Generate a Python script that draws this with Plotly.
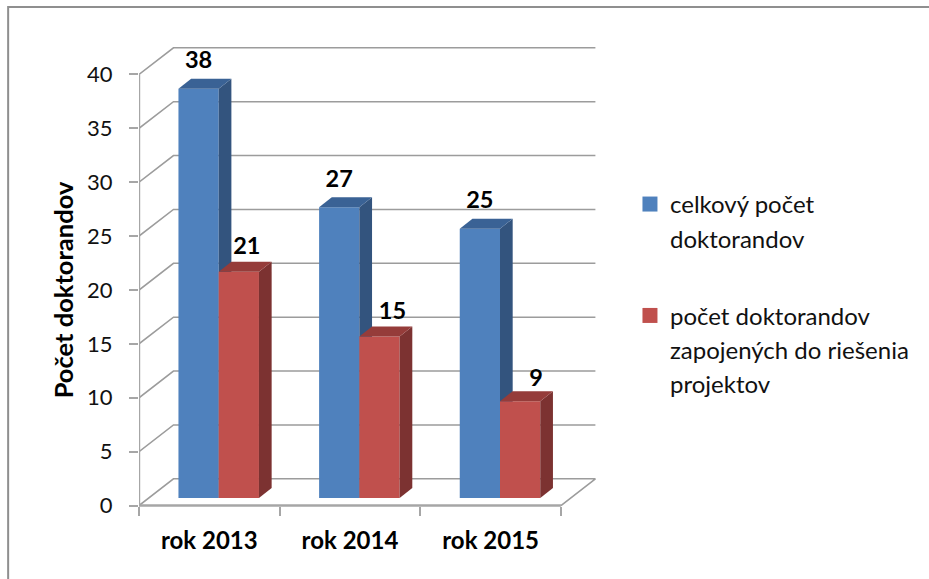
import plotly.graph_objects as go

categories = ["rok 2013", "rok 2014", "rok 2015"]
total = [38, 27, 25]
involved = [21, 15, 9]
y_ticks = [0, 5, 10, 15, 20, 25, 30, 35, 40]
name_total = ["celkový počet", "doktorandov"]
name_involved = ["počet doktorandov", "zapojených do riešenia", "projektov"]
y_title = "Počet doktorandov"

# pixel layout: plot area PT..PB is centred on the 0-40 span, so the axis title centres on it
W, H = 929, 579
PX0, PX1 = 138.5, 600.0
ZERO_PY, FORTY_PY = 505.7, 74.5
PT, PB = 40.0, 2 * (ZERO_PY + FORTY_PY) / 2 - 40.0
CAT_PX = 140.8
VAL_PX = (ZERO_PY - FORTY_PY) / y_ticks[-1]
X_RANGE = [0, (PX1 - PX0) / CAT_PX]
Y_RANGE = [-(PB - ZERO_PY) / VAL_PX, (ZERO_PY - PT) / VAL_PX]

# pseudo-3D geometry, in axis units
WALL_DX, WALL_DY = 34.5 / CAT_PX, 26.7 / VAL_PX
BAR_DX, BAR_DY = 12.7 / CAT_PX, 10.0 / VAL_PX
BAR_BASE = 7.4 / VAL_PX
BAR_W = 40.3 / CAT_PX
BAR_START = 0.2805
LABEL_UP = 26.5 / VAL_PX
label_lift_total = [0, 0, 0]
label_lift_involved = [-3 / VAL_PX, -3 / VAL_PX, -5 / VAL_PX]
label_shift_total = [0, 0, 0]
label_shift_involved = [8 / CAT_PX, 13 / CAT_PX, 16 / CAT_PX]

GRID = "#9c9c9c"
AXIS = "#a6a6a6"
BLUE, BLUE_SIDE, BLUE_TOP = "#4f81bd", "#33547e", "#3a6295"
RED, RED_SIDE, RED_TOP = "#c0504d", "#7c3231", "#953c3a"
FONT = "Lato"
INK = "#111111"

fig = go.Figure()

# back wall and floor
n = len(categories)
for v in y_ticks[1:]:
    fig.add_trace(go.Scatter(
        x=[0, WALL_DX, n + WALL_DX], y=[v, v + WALL_DY, v + WALL_DY],
        mode="lines", line=dict(color=GRID, width=1.6), showlegend=False,
        hoverinfo="skip", cliponaxis=False))
fig.add_trace(go.Scatter(
    x=[0, WALL_DX, n + WALL_DX, n], y=[0, WALL_DY, WALL_DY, 0],
    mode="lines", line=dict(color=GRID, width=1.6), showlegend=False,
    hoverinfo="skip", cliponaxis=False))
# front axis lines
fig.add_trace(go.Scatter(
    x=[0, 0, n], y=[y_ticks[-1], 0, 0], mode="lines",
    line=dict(color=AXIS, width=2.4), showlegend=False, hoverinfo="skip", cliponaxis=False))


def add_series(values, offset, names, front, side, top, xa, ya):
    group = names[0]
    xs = [i + offset for i in range(len(values))]
    fig.add_trace(go.Bar(
        x=xs, y=values, base=[BAR_BASE] * len(values), width=BAR_W, offset=0,
        marker=dict(color=front, line=dict(width=0)), name=" ".join(names),
        legendgroup=group, showlegend=False, xaxis=xa, yaxis=ya))
    for x, v in zip(xs, values):
        r = x + BAR_W
        t = BAR_BASE + v
        fig.add_trace(go.Scatter(
            x=[r, r + BAR_DX, r + BAR_DX, r, r],
            y=[BAR_BASE, BAR_BASE + BAR_DY, t + BAR_DY, t, BAR_BASE],
            fill="toself", fillcolor=side, mode="lines", line=dict(width=0),
            legendgroup=group, showlegend=False, hoverinfo="skip", xaxis=xa, yaxis=ya))
        fig.add_trace(go.Scatter(
            x=[x, x + BAR_DX, r + BAR_DX, r, x],
            y=[t, t + BAR_DY, t + BAR_DY, t, t],
            fill="toself", fillcolor=top, mode="lines", line=dict(width=0),
            legendgroup=group, showlegend=False, hoverinfo="skip", xaxis=xa, yaxis=ya))
    # legend: one row per text line, the swatch only on the first one
    for k, line in enumerate(names):
        fig.add_trace(go.Scatter(
            x=[None], y=[None], mode="markers", name=line, legendgroup=group,
            marker=dict(symbol="square", size=15,
                        color=front if k == 0 else "rgba(0,0,0,0)"),
            hoverinfo="skip", xaxis=xa, yaxis=ya))


add_series(total, BAR_START, name_total, BLUE, BLUE_SIDE, BLUE_TOP, "x2", "y2")
add_series(involved, BAR_START + BAR_W, name_involved, RED, RED_SIDE, RED_TOP, "x3", "y3")

# data labels
fig.add_trace(go.Scatter(
    x=[i + BAR_START + BAR_W / 2 + s for i, s in enumerate(label_shift_total)]
      + [i + BAR_START + 1.5 * BAR_W + s for i, s in enumerate(label_shift_involved)],
    y=[BAR_BASE + v + LABEL_UP + d
       for v, d in zip(total + involved, label_lift_total + label_lift_involved)],
    text=[str(v) for v in total + involved],
    mode="text", textposition="middle center",
    textfont=dict(family=FONT, size=23.5, color="#000000", weight="bold"),
    showlegend=False, hoverinfo="skip", xaxis="x3", yaxis="y3", cliponaxis=False))

overlay = dict(range=X_RANGE, visible=False, fixedrange=True)
overlay_y = dict(range=Y_RANGE, visible=False, fixedrange=True)

fig.update_layout(
    width=W, height=H,
    margin=dict(l=PX0, r=W - PX1, t=PT, b=H - PB, autoexpand=False),
    paper_bgcolor="white", plot_bgcolor="rgba(0,0,0,0)",
    barmode="overlay", showlegend=True,
    font=dict(family=FONT, color=INK),
    xaxis=dict(
        range=X_RANGE, fixedrange=True, showgrid=False, zeroline=False, showline=False,
        anchor="free", position=(PB - ZERO_PY) / (PB - PT),
        tickmode="array", tickvals=[i + 0.5 for i in range(n)], ticktext=categories,
        ticks="", ticklabelstandoff=18,
        tickfont=dict(family=FONT, size=24, color="#000000", weight="bold"),
        minor=dict(tickmode="array", tickvals=list(range(n + 1)), ticks="outside",
                   ticklen=9, tickwidth=2, tickcolor=AXIS, showgrid=False),
    ),
    yaxis=dict(
        range=Y_RANGE, fixedrange=True, showgrid=False, zeroline=False, showline=False,
        tickmode="array", tickvals=y_ticks, ticks="outside", ticklen=9, tickwidth=2,
        tickcolor=AXIS, ticklabelstandoff=12,
        tickfont=dict(family=FONT, size=22, color=INK),
        title=dict(text=y_title, standoff=6,
                   font=dict(family=FONT, size=25.5, color="#000000", weight="bold")),
    ),
    xaxis2=dict(overlaying="x", **overlay),
    yaxis2=dict(overlaying="y", **overlay_y),
    xaxis3=dict(overlaying="x", **overlay),
    yaxis3=dict(overlaying="y", **overlay_y),
    legend=dict(
        x=(630 - PX0) / (PX1 - PX0), y=(PB - 182) / (PB - PT),
        xanchor="left", yanchor="top", bgcolor="rgba(0,0,0,0)",
        font=dict(family=FONT, size=24, color=INK),
        tracegroupgap=43, itemwidth=30, traceorder="grouped",
    ),
    shapes=[dict(
        type="rect", xref="paper", yref="paper",
        x0=(7.5 - PX0) / (PX1 - PX0), x1=(940 - PX0) / (PX1 - PX0),
        y0=(PB - 600) / (PB - PT), y1=(PB - 7) / (PB - PT),
        line=dict(color="#8f8f8f", width=2), layer="below")],
)

fig.write_html("out.html", config=dict(displayModeBar=False),
               post_script="document.body.style.margin='0';")
